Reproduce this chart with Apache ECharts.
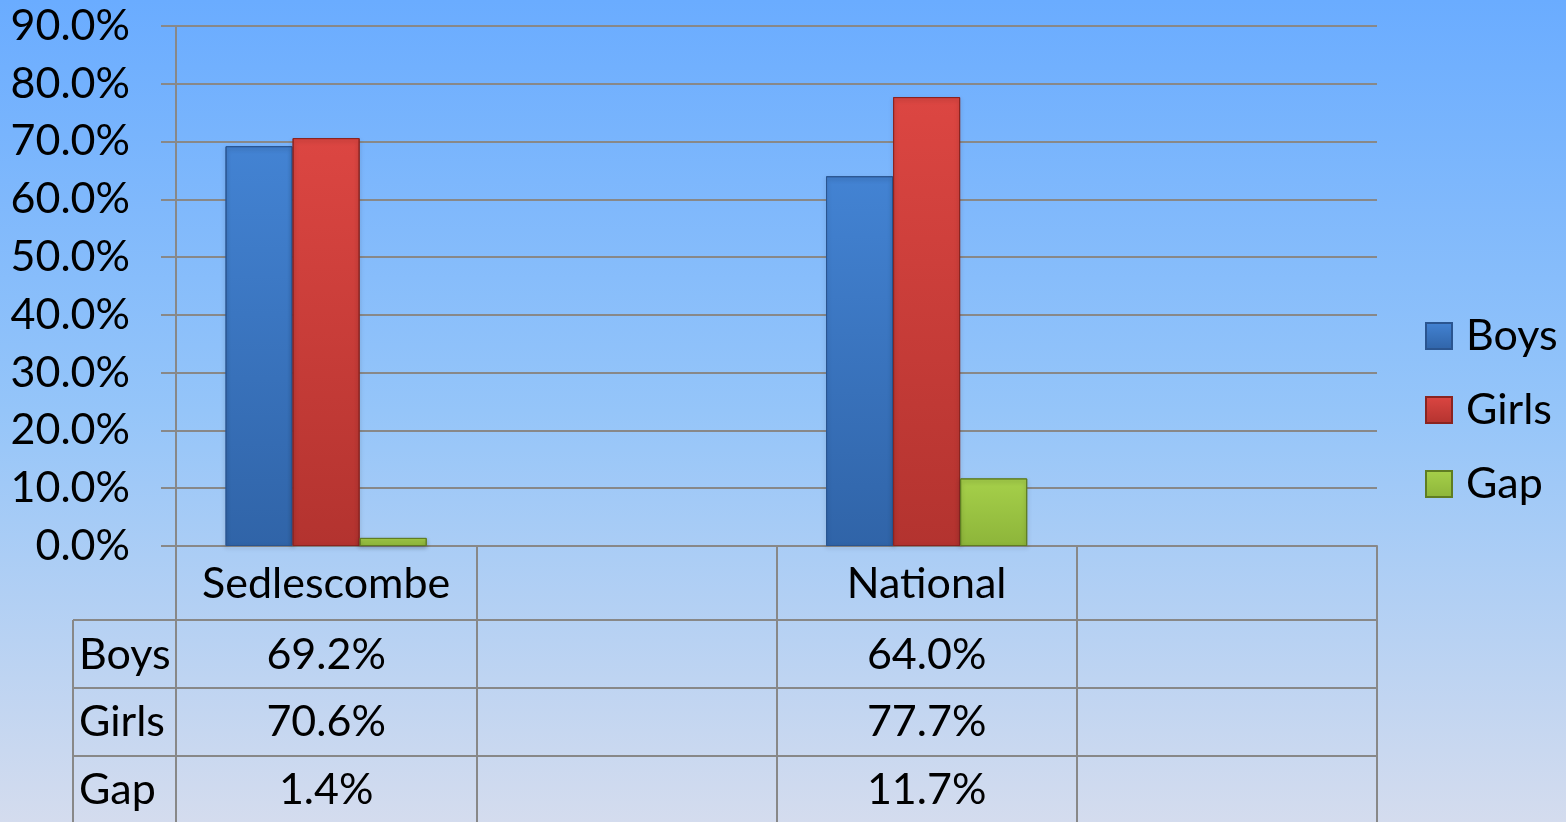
<!DOCTYPE html>
<html>
<head>
<meta charset="utf-8">
<script src="https://cdn.jsdelivr.net/npm/echarts@6/dist/echarts.min.js"></script>
<style>
html,body{margin:0;padding:0;}
#c{width:1566px;height:822px;}
</style>
</head>
<body>
<div id="c"></div>
<script>
var categories = ['Sedlescombe', '', 'National', ''];
var seriesNames = ['Boys', 'Girls', 'Gap'];
var boys = [69.2, null, 64.0, null];
var girls = [70.6, null, 77.7, null];
var gap = [1.4, null, 11.7, null];
var yTicks = [0, 10, 20, 30, 40, 50, 60, 70, 80, 90];

var FONT = 'Lato';
var chart = echarts.init(document.getElementById('c'));

function grad(top, bottom, border) {
  return {
    color: {type: 'linear', x: 0, y: 0, x2: 0, y2: 1,
      colorStops: [{offset: 0, color: top}, {offset: 1, color: bottom}]},
    borderColor: border, borderWidth: 1,
    shadowColor: 'rgba(0,0,0,0.25)', shadowBlur: 4, shadowOffsetY: 2
  };
}
var styles = [
  grad('#4383d3', '#3064a8', '#2a5590'),
  grad('#dc4642', '#b3332f', '#8a2420'),
  grad('#a6d04a', '#8db53a', '#5f7d22')
];
var dataArr = [boys, girls, gap];

var option = {
  backgroundColor: {type: 'linear', x: 0, y: 0, x2: 0, y2: 1,
    colorStops: [{offset: 0, color: '#6aacff'}, {offset: 0.5, color: '#95c5f9'}, {offset: 1, color: '#d4dcee'}]},
  animation: false,
  textStyle: {fontFamily: FONT},
  grid: {left: 176, right: 189, top: 26, bottom: 276},
  legend: {
    orient: 'vertical', left: 1425, top: 312, padding: 0,
    itemWidth: 26, itemHeight: 26, itemGap: 26, icon: 'rect',
    data: seriesNames,
    textStyle: {fontFamily: FONT, fontSize: 43, color: '#000', lineHeight: 48, padding: [0, 0, 0, 9]}
  },
  xAxis: {
    type: 'category', data: categories,
    axisLine: {show: true, lineStyle: {color: '#888', width: 2}},
    axisTick: {show: true, interval: 0, length: 276, lineStyle: {color: '#888', width: 2}},
    axisLabel: {interval: 0, fontFamily: FONT, fontSize: 43, color: '#000', margin: 16, lineHeight: 44}
  },
  yAxis: {
    type: 'value', min: 0, max: 90, interval: 10,
    axisLine: {show: true, lineStyle: {color: '#888', width: 2}},
    axisTick: {show: true, length: 15, lineStyle: {color: '#888', width: 2}},
    splitLine: {show: true, lineStyle: {color: '#888', width: 2}},
    axisLabel: {fontFamily: FONT, fontSize: 43, color: '#000', margin: 46,
      formatter: function (v) { return v.toFixed(1) + '%'; }}
  },
  series: seriesNames.map(function (n, i) {
    return {
      name: n, type: 'bar', data: dataArr[i],
      barGap: '0%', barCategoryGap: '33%',
      itemStyle: styles[i]
    };
  })
};
chart.setOption(option);

// data table drawn from the same arrays
var rowY = [655, 722, 790];
var lineTop = [620, 688, 756];
var cx2 = chart.convertToPixel({xAxisIndex: 0}, 2);
var cx3 = chart.convertToPixel({xAxisIndex: 0}, 3);
var gx0 = 73, gx1 = cx3 + (cx3 - cx2) / 2;
var elements = [];
lineTop.forEach(function (y) {
  elements.push({type: 'line', shape: {x1: gx0, y1: y, x2: gx1, y2: y},
    style: {stroke: '#888', lineWidth: 2}, z: 10});
});
elements.push({type: 'line', shape: {x1: gx0, y1: 620, x2: gx0, y2: 822},
  style: {stroke: '#888', lineWidth: 2}, z: 10});
seriesNames.forEach(function (n, r) {
  elements.push({type: 'text', x: 79, y: rowY[r],
    style: {text: n, fontFamily: FONT, fontSize: 43, fill: '#000', textVerticalAlign: 'middle'}, z: 10});
  dataArr[r].forEach(function (v, c) {
    if (v == null) return;
    var x = chart.convertToPixel({xAxisIndex: 0}, c);
    elements.push({type: 'text', x: x, y: rowY[r],
      style: {text: v.toFixed(1) + '%', fontFamily: FONT, fontSize: 43, fill: '#000',
        textAlign: 'center', textVerticalAlign: 'middle'}, z: 10});
  });
});
chart.setOption({graphic: {elements: elements}});
</script>
</body>
</html>
